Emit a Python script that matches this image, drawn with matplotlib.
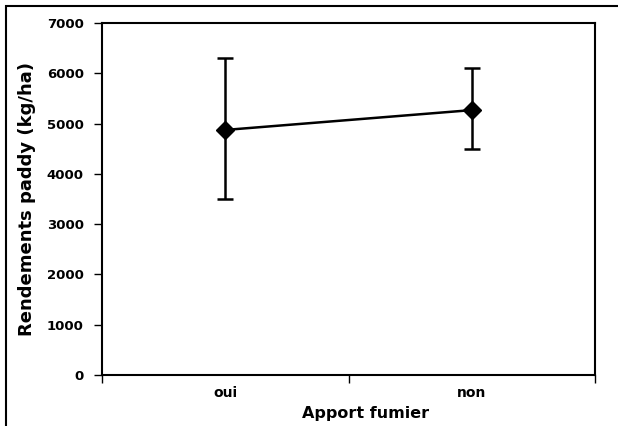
import matplotlib
matplotlib.use("Agg")
import matplotlib.pyplot as plt
from matplotlib.patches import Rectangle

# Data
categories = ["oui", "non"]
rendement = [4875, 5270]
err_low = [3500, 4500]
err_high = [6300, 6100]

yerr = [[m - lo for m, lo in zip(rendement, err_low)],
        [hi - m for m, hi in zip(rendement, err_high)]]

fig = plt.figure(figsize=(6.18, 4.26), dpi=100)
ax = fig.add_axes([0.165, 0.1197, 0.798, 0.826])

xs = list(range(len(categories)))
ax.errorbar(xs, rendement, yerr=yerr, color="black", linewidth=1.8,
            marker="D", markersize=9, capsize=5.5, capthick=1.8,
            elinewidth=1.8)

ax.set_xlim(-0.5, len(categories) - 0.5)
ax.set_ylim(0, 7000)
ax.set_yticks(range(0, 7001, 1000))
ax.set_xticks([-0.5, 0.5, 1.5], minor=False)
ax.set_xticklabels(["", "", ""])
ax.set_xticks(xs, minor=True)
ax.set_xticklabels(categories, minor=True)
ax.tick_params(axis="x", which="minor", length=0, labelsize=10, pad=8)
ax.tick_params(axis="x", which="major", direction="out", length=6, width=1)
ax.tick_params(axis="y", direction="out", length=6, width=1, labelsize=9.5, pad=7)
for lab in ax.get_yticklabels() + ax.get_xticklabels(minor=True):
    lab.set_fontweight("bold")

for s in ax.spines.values():
    s.set_linewidth(1.5)

ax.set_xlabel("Apport fumier", fontsize=11.5, fontweight="bold", labelpad=4)
ax.xaxis.label.set_x(0.535)
ax.set_ylabel("Rendements paddy (kg/ha)", fontsize=13, fontweight="bold",
              labelpad=8)

# outer frame around the chart area (cut off at right and bottom)
fig.patches.append(Rectangle((6 / 618, -0.05), 1.0, 1 - 6 / 426 + 0.05,
                             transform=fig.transFigure, fill=False,
                             edgecolor="black", linewidth=1.5))

fig.savefig("out.png", dpi=100)
